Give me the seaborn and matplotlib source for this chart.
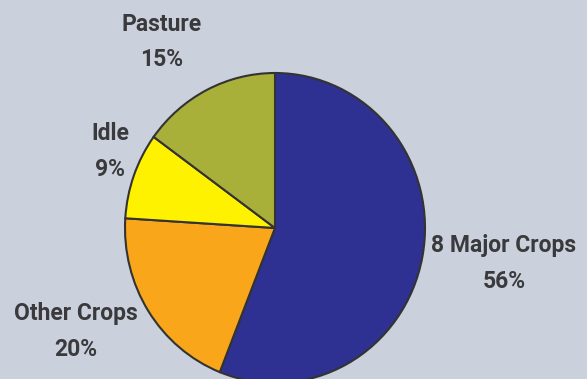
import seaborn as sns
import matplotlib.pyplot as plt

sns.set_style('white')
plt.rcParams['font.family'] = ['Roboto', 'DejaVu Sans']

# land use shares
categories = ['8 Major Crops', 'Other Crops', 'Idle', 'Pasture']
shares = [56, 20, 9, 15]
colors = ['#2E3192', '#F9A61A', '#FFF200', '#A8B03A']

# label positions (data units, pie centre at 0,0)
label_pos = [(1.527, -0.229), (-1.327, -0.668), (-1.10, 0.494), (-0.753, 1.20)]

bg = '#CAD1DC'
fig = plt.figure(figsize=[5.87, 3.79], dpi=100, facecolor=bg)
ax = fig.add_axes([0, 0, 1, 1])
ax.set_facecolor(bg)

ax.pie(shares, colors=colors, startangle=90, counterclock=False,
       wedgeprops=dict(edgecolor='#333333', linewidth=1.5))

for name, val, (x, y) in zip(categories, shares, label_pos):
    ax.text(x, y, f'{name}\n{val}%', ha='center', va='center',
            fontsize=16.5, fontweight='bold', color='#3a3a3d', linespacing=1.72)

ax.set_aspect('auto')
ax.set_xlim(-275 / 150, 312 / 150)
ax.set_ylim(-151 / 155, 228 / 155)
ax.axis('off')

fig.savefig('out.png', dpi=100, facecolor=bg)
